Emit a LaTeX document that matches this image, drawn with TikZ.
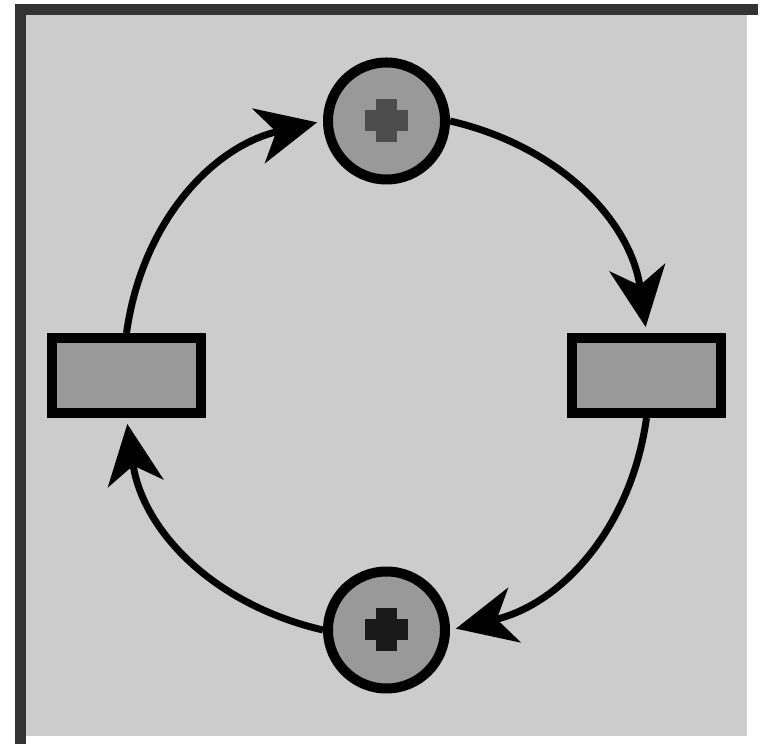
\documentclass[tikz,border=0pt]{standalone}
\usepackage{xcolor}
\usepackage{tikz}
\usetikzlibrary{arrows.meta}
\definecolor{bgGray}{HTML}{CCCCCC}
\definecolor{fillGray}{HTML}{999999}
\definecolor{frameGray}{HTML}{333333}
\definecolor{tokenMid}{HTML}{4D4D4D}
\definecolor{tokenDark}{HTML}{1A1A1A}

\begin{document}
\begin{tikzpicture}[x=0.5pt,y=0.5pt]
\tikzset{
    place/.style={
        circle, minimum size=58.5pt, inner sep=0pt,
        fill=fillGray, draw=black, line width=5pt
    },
    transition/.style={
        rectangle, minimum width=74.5pt, minimum height=37.5pt, inner sep=0pt,
        fill=fillGray, draw=black, line width=5pt
    },
    arc/.style={
        line width=3.5pt, draw=black, shorten >=3pt,
        -{Stealth[length=30pt,width=28pt,inset=9pt]}
    }
}
\useasboundingbox (0,0) rectangle (766,744);

% Fundal si rama
\fill[bgGray] (26,8) rectangle (747,729);
\fill[frameGray] (15,729) rectangle (758,740);
\fill[frameGray] (15,0) rectangle (26,740);

% Locuri si tranzitii
\node[place]      (ptop)   at (386.5,623) {};
\node[place]      (pbot)   at (386.5,114) {};
\node[transition] (tleft)  at (126.5,368.5) {};
\node[transition] (tright) at (646.5,368.5) {};

% Jetoane
\fill[tokenMid]  ([xshift=-10.75pt,yshift=-5.25pt]ptop.center) rectangle ([xshift=10.75pt,yshift=5.25pt]ptop.center);
\fill[tokenMid]  ([xshift=-5.25pt,yshift=-10.75pt]ptop.center) rectangle ([xshift=5.25pt,yshift=10.75pt]ptop.center);
\fill[tokenDark] ([xshift=-10.75pt,yshift=-5.25pt]pbot.center) rectangle ([xshift=10.75pt,yshift=5.25pt]pbot.center);
\fill[tokenDark] ([xshift=-5.25pt,yshift=-10.75pt]pbot.center) rectangle ([xshift=5.25pt,yshift=10.75pt]pbot.center);

% Arce
\draw[arc] (ptop.east)    to[out=-13, in=98]  (tright.north);
\draw[arc] (tright.south) to[out=-98, in=13]  (pbot.east);
\draw[arc] (pbot.west)    to[out=167, in=-82] (tleft.south);
\draw[arc] (tleft.north)  to[out=82,  in=-167] (ptop.west);
\end{tikzpicture}
\end{document}
